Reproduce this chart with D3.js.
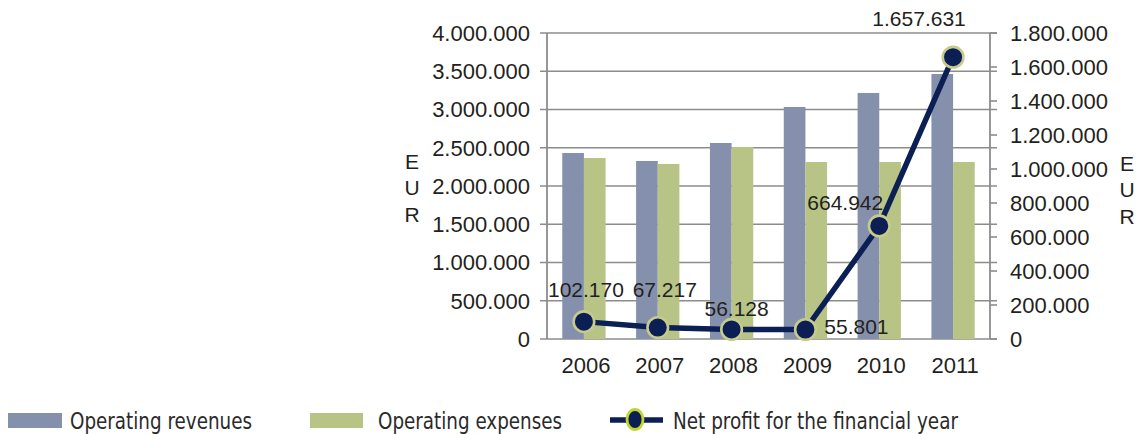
<!DOCTYPE html>
<html>
<head>
<meta charset="utf-8">
<script src="https://cdn.jsdelivr.net/npm/d3@7"></script>
<style>
  html, body { margin: 0; padding: 0; background: #ffffff; }
  svg { display: block; }
</style>
</head>
<body>
<svg id="chart" width="1141" height="434"></svg>
<script>
// ---- data ----
const years = ["2006", "2007", "2008", "2009", "2010", "2011"];
const operatingRevenues = [2431000, 2327000, 2562000, 3033000, 3216000, 3464000];
const operatingExpenses = [2366000, 2288000, 2510000, 2314000, 2314000, 2314000];
const netProfit = [102170, 67217, 56128, 55801, 664942, 1657631];
const leftTicks = [0, 500000, 1000000, 1500000, 2000000, 2500000, 3000000, 3500000, 4000000];
const rightTicks = [0, 200000, 400000, 600000, 800000, 1000000, 1200000, 1400000, 1600000, 1800000];
const seriesNames = ["Operating revenues", "Operating expenses", "Net profit for the financial year"];
const axisTitle = "EUR";

// ---- style ----
const colRev = "#8590ad", colExp = "#b8c386", colLine = "#0b1f55";
const colMarkerStroke = "#c6ca8c", colLegendMarker = "#c3d62e";
const colGrid = "#8c8c8c", colText = "#231f20";
const labelOffsets = [[2, -25], [7, -31], [5, -13], [51, 4], [-34, -16], [-34, -31]];

const svg = d3.select("#chart");
const locale = d3.formatLocale({decimal: ",", thousands: ".", grouping: [3], currency: ["", "€"]});
const fmt = locale.format(",");

const x0 = 547, x1 = 990, yTop = 33, yBot = 339;
const x = d3.scaleBand().domain(years).range([x0, x1]).paddingInner(0.4135).paddingOuter(0.2068);
const xs = d3.scaleBand().domain([0, 1]).range([0, x.bandwidth()]);
const yL = d3.scaleLinear().domain([0, 4000000]).range([yBot, yTop]);
const yR = d3.scaleLinear().domain([0, 1800000]).range([yBot, yTop]);
const cx = d => x(d) + x.bandwidth() / 2;

// gridlines
svg.append("g").selectAll("line").data(leftTicks).join("line")
  .attr("x1", 540).attr("x2", 997)
  .attr("y1", d => yL(d)).attr("y2", d => yL(d))
  .attr("stroke", colGrid).attr("stroke-width", 1.6);

// bars
const series = [operatingRevenues, operatingExpenses];
const colors = [colRev, colExp];
series.forEach((vals, si) => {
  svg.append("g").selectAll("rect").data(years).join("rect")
    .attr("x", d => x(d) + xs(si))
    .attr("width", xs.bandwidth())
    .attr("y", (d, i) => yL(vals[i]))
    .attr("height", (d, i) => yBot - yL(vals[i]))
    .attr("fill", colors[si]);
});

// axes lines
svg.append("line").attr("x1", x0).attr("x2", x0).attr("y1", yTop).attr("y2", yBot)
  .attr("stroke", colGrid).attr("stroke-width", 1.8);
svg.append("line").attr("x1", x1).attr("x2", x1).attr("y1", yTop).attr("y2", yBot)
  .attr("stroke", colGrid).attr("stroke-width", 1.8);
svg.append("g").selectAll("line").data(rightTicks).join("line")
  .attr("x1", x1).attr("x2", 997)
  .attr("y1", d => yR(d)).attr("y2", d => yR(d))
  .attr("stroke", colGrid).attr("stroke-width", 1.6);

// tick labels
const font = "'Liberation Sans', Arial, sans-serif";
svg.append("g").selectAll("text").data(leftTicks).join("text")
  .attr("x", 530).attr("y", d => yL(d)).attr("dy", "0.36em")
  .attr("text-anchor", "end").attr("font-family", font).attr("font-size", 22)
  .attr("fill", colText).text(d => fmt(d));
svg.append("g").selectAll("text").data(rightTicks).join("text")
  .attr("x", 1010).attr("y", d => yR(d)).attr("dy", "0.36em")
  .attr("text-anchor", "start").attr("font-family", font).attr("font-size", 22)
  .attr("fill", colText).text(d => fmt(d));
svg.append("g").selectAll("text").data(years).join("text")
  .attr("x", d => cx(d) + 2).attr("y", 373)
  .attr("text-anchor", "middle").attr("font-family", font).attr("font-size", 22)
  .attr("fill", colText).text(d => d);

// EUR titles
[[412, 161], [1127, 163]].forEach(([ax, ay]) => {
  svg.append("g").selectAll("text").data(axisTitle.split("")).join("text")
    .attr("x", ax).attr("y", (d, i) => ay + i * 26.5).attr("dy", "0.36em")
    .attr("text-anchor", "middle").attr("font-family", font).attr("font-size", 21)
    .attr("fill", colText).text(d => d);
});

// line
const line = d3.line().x((d, i) => cx(years[i])).y(d => yR(d));
svg.append("path").datum(netProfit).attr("d", line)
  .attr("fill", "none").attr("stroke", colLine).attr("stroke-width", 5.5)
  .attr("stroke-linejoin", "round");
svg.append("g").selectAll("circle").data(netProfit).join("circle")
  .attr("cx", (d, i) => cx(years[i])).attr("cy", d => yR(d)).attr("r", 10.3)
  .attr("fill", colLine).attr("stroke", colMarkerStroke).attr("stroke-width", 2.6);

// data labels
svg.append("g").selectAll("text").data(netProfit).join("text")
  .attr("x", (d, i) => cx(years[i]) + labelOffsets[i][0])
  .attr("y", (d, i) => yR(d) + labelOffsets[i][1])
  .attr("text-anchor", "middle").attr("font-family", font).attr("font-size", 21)
  .attr("fill", colText).text(d => fmt(d));

// legend
const lfont = "'DejaVu Sans Condensed', 'Liberation Sans Narrow', 'DejaVu Sans', sans-serif";
const ly = 421;
svg.append("rect").attr("x", 8).attr("y", 413).attr("width", 54).attr("height", 15).attr("fill", colRev);
svg.append("rect").attr("x", 310).attr("y", 413).attr("width", 53).attr("height", 15).attr("fill", colExp);
svg.append("line").attr("x1", 610).attr("x2", 663).attr("y1", 420).attr("y2", 420)
  .attr("stroke", colLine).attr("stroke-width", 5.5);
svg.append("ellipse").attr("cx", 635).attr("cy", 419.5).attr("rx", 8).attr("ry", 10)
  .attr("fill", colLine).attr("stroke", colLegendMarker).attr("stroke-width", 2.8);
const legendText = [[70, 182], [378, 184], [673, 285]];
legendText.forEach(([lx, lw], i) => {
  svg.append("text").attr("x", lx).attr("y", ly).attr("dy", "0.36em")
    .attr("font-family", lfont).attr("font-size", 22.5)
    .attr("textLength", lw).attr("lengthAdjust", "spacingAndGlyphs")
    .attr("fill", "#2a2a2a").text(seriesNames[i]);
});
</script>
</body>
</html>
